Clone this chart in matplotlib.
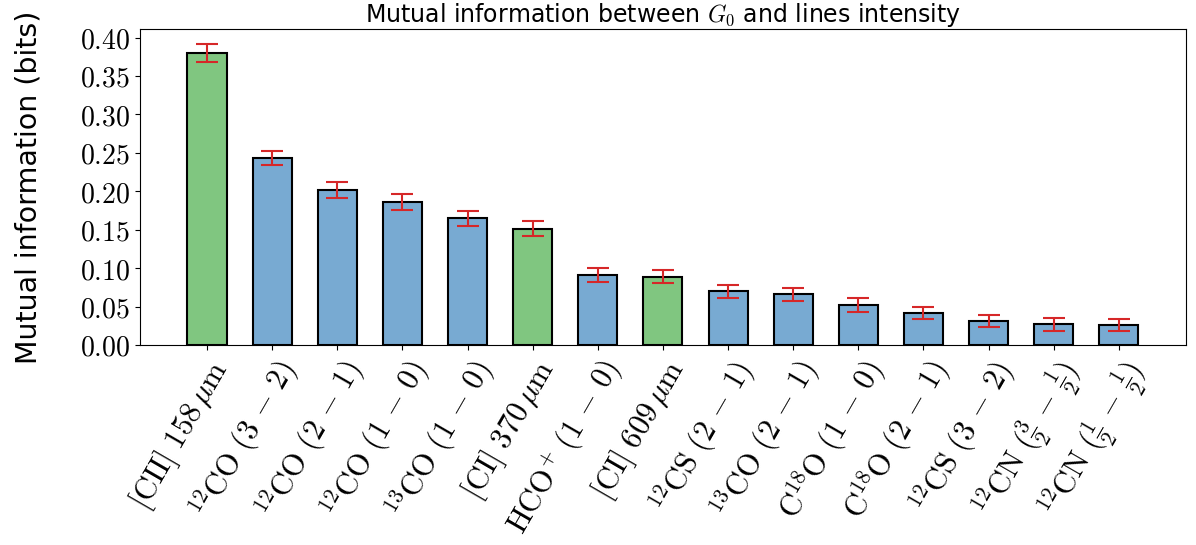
import numpy as np
import matplotlib
matplotlib.use('Agg')
import matplotlib.pyplot as plt
from matplotlib.ticker import FuncFormatter, MultipleLocator

plt.rcParams['mathtext.fontset'] = 'cm'
plt.rcParams['font.family'] = 'DejaVu Sans'

# lines, sorted by mutual information with G0
line_labels = [
    r'$[\mathrm{CII}]\ 158\,\mu\mathrm{m}$',
    r'$^{12}\mathrm{CO}\ (3\,-\,2)$',
    r'$^{12}\mathrm{CO}\ (2\,-\,1)$',
    r'$^{12}\mathrm{CO}\ (1\,-\,0)$',
    r'$^{13}\mathrm{CO}\ (1\,-\,0)$',
    r'$[\mathrm{CI}]\ 370\,\mu\mathrm{m}$',
    r'$\mathrm{HCO}^{+}\ (1\,-\,0)$',
    r'$[\mathrm{CI}]\ 609\,\mu\mathrm{m}$',
    r'$^{12}\mathrm{CS}\ (2\,-\,1)$',
    r'$^{13}\mathrm{CO}\ (2\,-\,1)$',
    r'$\mathrm{C}^{18}\mathrm{O}\ (1\,-\,0)$',
    r'$\mathrm{C}^{18}\mathrm{O}\ (2\,-\,1)$',
    r'$^{12}\mathrm{CS}\ (3\,-\,2)$',
    r'$^{12}\mathrm{CN}\ (\frac{3}{2}\,-\,\frac{1}{2})$',
    r'$^{12}\mathrm{CN}\ (\frac{1}{2}\,-\,\frac{1}{2})$',
]
mi_values = [0.380, 0.243, 0.202, 0.186, 0.165, 0.151, 0.091, 0.089,
             0.070, 0.066, 0.052, 0.042, 0.031, 0.027, 0.026]
mi_errors = [0.0115, 0.0095, 0.0105, 0.0098, 0.0098, 0.0098, 0.0085, 0.0087,
             0.0083, 0.0087, 0.0088, 0.0078, 0.008, 0.0083, 0.008]
# True for atomic fine-structure lines (green), False for molecular lines
is_atomic = [True, False, False, False, False, True, False, True,
             False, False, False, False, False, False, False]

colors = ['#80c680' if atomic else '#78aad2' for atomic in is_atomic]

fig, ax = plt.subplots(figsize=(11.96, 5.45), dpi=100)
x = np.arange(len(line_labels))
ax.bar(x, mi_values, width=0.6, color=colors, edgecolor='black', linewidth=1.5,
       yerr=mi_errors, error_kw=dict(ecolor='#d62728', capsize=8, elinewidth=1.5, capthick=1.5))

ax.set_xticks(x)
ax.set_xticklabels(line_labels, rotation=60, ha='right', rotation_mode='anchor', fontsize=22)
ax.yaxis.set_major_locator(MultipleLocator(0.05))
ax.yaxis.set_major_formatter(FuncFormatter(lambda v, pos: f'${v:.2f}$'))
ax.tick_params(axis='y', labelsize=20)
ax.set_ylabel('Mutual information (bits)', fontsize=20.5, labelpad=27)
ax.set_title('Mutual information between $G_0$ and lines intensity', fontsize=17, pad=3.5)

plt.subplots_adjust(left=0.117, right=0.9916, top=0.9468, bottom=0.367)
fig.savefig('out.png', dpi=100)
